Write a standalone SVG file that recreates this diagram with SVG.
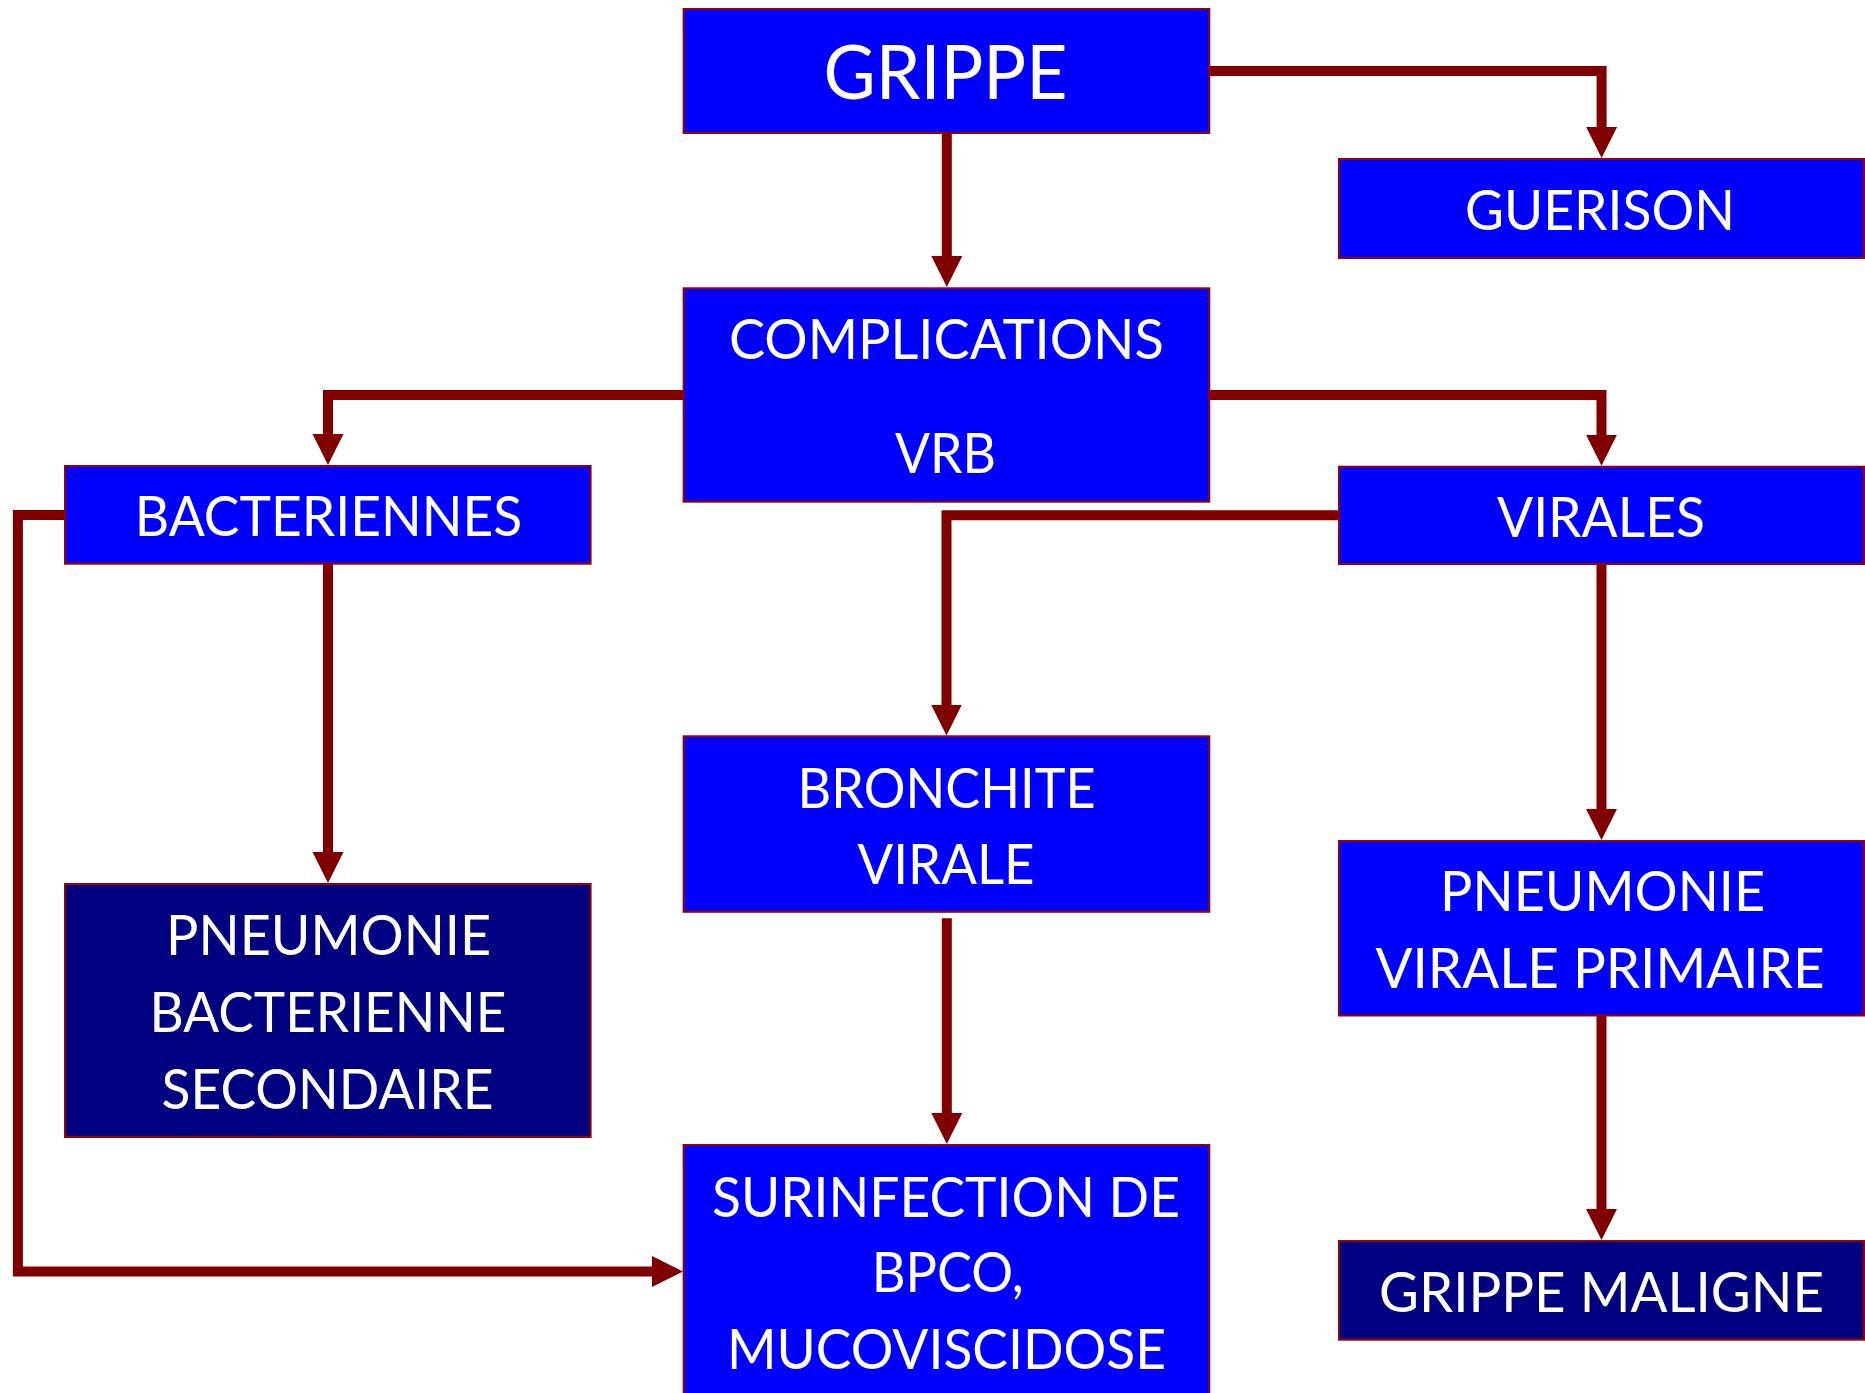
<svg xmlns="http://www.w3.org/2000/svg" width="1865" height="1393" viewBox="0 0 1865 1393">
<style>
.box{fill:#0000FF;stroke:#990000;stroke-width:2}
.dark{fill:#000080;stroke:#990000;stroke-width:2}
.t{fill:#FFFFFF;font-family:Lato,"Open Sans","Liberation Sans",sans-serif;font-size:56px;text-anchor:middle}
.big{font-size:75px}
.c{fill:none;stroke:#800000;stroke-width:10;stroke-linejoin:miter;stroke-linecap:butt}
</style>
<defs>
<marker id="ah" viewBox="0 -16 32 32" markerWidth="32" markerHeight="32" refX="1" refY="0" markerUnits="userSpaceOnUse" orient="auto">
<path d="M0,-15.5 L31,0 L0,15.5 z" fill="#800000"/>
</marker>
</defs>
<rect width="1865" height="1393" fill="#FFFFFF"/>
<g id="connectors">
<path class="c" d="M946.8,133 V257" marker-end="url(#ah)"/>
<path class="c" d="M1209,71 H1601.6 V128" marker-end="url(#ah)"/>
<path class="c" d="M683.6,395 H328 V435" marker-end="url(#ah)"/>
<path class="c" d="M1209.3,395 H1601.5 V435.7" marker-end="url(#ah)"/>
<path class="c" d="M1339,515.3 H946.5 V705.5" marker-end="url(#ah)"/>
<path class="c" d="M1601.5,564 V810" marker-end="url(#ah)"/>
<path class="c" d="M328,563.7 V853" marker-end="url(#ah)"/>
<path class="c" d="M946.8,918.3 V1114" marker-end="url(#ah)"/>
<path class="c" d="M1601.5,1015.5 V1210" marker-end="url(#ah)"/>
<path class="c" d="M65,515 H17.9 V1271.6 H653" marker-end="url(#ah)"/>
</g>
<g id="grippe">
<rect class="box" x="683.6" y="9" width="525.7" height="124"/>
<text class="t big" x="945.5" y="99" textLength="244" lengthAdjust="spacingAndGlyphs">GRIPPE</text>
</g>
<g id="guerison">
<rect class="box" x="1339" y="159" width="525" height="99"/>
<text class="t" x="1600" y="230" textLength="270" lengthAdjust="spacingAndGlyphs">GUERISON</text>
</g>
<g id="complications">
<rect class="box" x="683.6" y="288.3" width="525.7" height="213.4"/>
<text class="t" x="946.4" y="359" textLength="435" lengthAdjust="spacingAndGlyphs">COMPLICATIONS</text>
<text class="t" x="945.5" y="473.3" textLength="101" lengthAdjust="spacingAndGlyphs">VRB</text>
</g>
<g id="bacteriennes">
<rect class="box" x="65" y="466" width="525.6" height="97.7"/>
<text class="t" x="328.5" y="535.7" textLength="387.5" lengthAdjust="spacingAndGlyphs">BACTERIENNES</text>
</g>
<g id="virales">
<rect class="box" x="1339" y="466.7" width="525" height="97.3"/>
<text class="t" x="1601" y="536.7" textLength="208" lengthAdjust="spacingAndGlyphs">VIRALES</text>
</g>
<g id="bronchite">
<rect class="box" x="683.6" y="736.3" width="525.7" height="175.5"/>
<text class="t" x="946.6" y="808" textLength="298" lengthAdjust="spacingAndGlyphs">BRONCHITE</text>
<text class="t" x="946" y="884.4" textLength="177" lengthAdjust="spacingAndGlyphs">VIRALE</text>
</g>
<g id="pneumonie-virale">
<rect class="box" x="1339" y="841" width="525" height="174.5"/>
<text class="t" x="1602.6" y="911.4" textLength="325" lengthAdjust="spacingAndGlyphs">PNEUMONIE</text>
<text class="t" x="1600" y="988" textLength="449" lengthAdjust="spacingAndGlyphs">VIRALE PRIMAIRE</text>
</g>
<g id="pneumonie-bacterienne">
<rect class="dark" x="65" y="884" width="525.6" height="253"/>
<text class="t" x="328.6" y="955.2" textLength="325" lengthAdjust="spacingAndGlyphs">PNEUMONIE</text>
<text class="t" x="328" y="1031.8" textLength="357" lengthAdjust="spacingAndGlyphs">BACTERIENNE</text>
<text class="t" x="327.5" y="1109" textLength="332" lengthAdjust="spacingAndGlyphs">SECONDAIRE</text>
</g>
<g id="surinfection">
<rect class="box" x="683.6" y="1145" width="525.7" height="260"/>
<text class="t" x="946" y="1216.6" textLength="468" lengthAdjust="spacingAndGlyphs">SURINFECTION DE</text>
<text class="t" x="947.7" y="1292" textLength="152" lengthAdjust="spacingAndGlyphs">BPCO,</text>
<text class="t" x="946.5" y="1369" textLength="439" lengthAdjust="spacingAndGlyphs">MUCOVISCIDOSE</text>
</g>
<g id="grippe-maligne">
<rect class="dark" x="1339" y="1241" width="525" height="98.7"/>
<text class="t" x="1601.5" y="1311.6" textLength="445" lengthAdjust="spacingAndGlyphs">GRIPPE MALIGNE</text>
</g>
</svg>
